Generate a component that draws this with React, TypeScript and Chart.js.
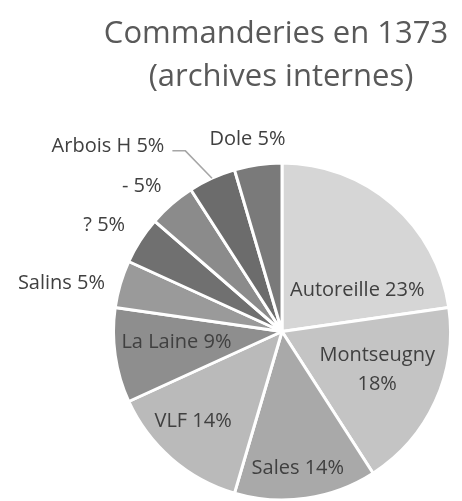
import React, { useEffect, useRef } from "react";
import { Chart, registerables } from "chart.js";

Chart.register(...registerables);

const categories = ["Autoreille", "Montseugny", "Sales", "VLF", "La Laine", "Salins", "?", "-", "Arbois H", "Dole"];
const counts = [5, 4, 3, 3, 2, 1, 1, 1, 1, 1];
const sliceColors = ["#d6d6d6", "#c4c4c4", "#a9a9a9", "#bababa", "#8e8e8e", "#9a9a9a", "#707070", "#8b8b8b", "#6c6c6c", "#7a7a7a"];
const titleLines = ["Commanderies en 1373", "(archives internes)"];
// label placement: [angle shift in degrees from slice middle, radius factor]
const labelPlacement: [number, number][] = [
  [20.2, 0.51], [-2.4, 0.61], [1.6, 0.82], [3.8, 0.75], [2.3, 0.63],
  [-4, 1.34], [-1.8, 1.23], [-3, 1.2], [-18.6, 1.51], [-2, 1.16],
];
const labelLineBreak = [false, true, false, false, false, false, false, false, false, false];
const leaderLine = [false, false, false, false, false, false, false, false, true, false];

const FONT = "'Open Sans', sans-serif";

const labelPlugin = {
  id: "pieLabels",
  afterDatasetsDraw(chart: any) {
    const ctx = chart.ctx;
    const meta = chart.getDatasetMeta(0);
    const total = counts.reduce((a, b) => a + b, 0);
    ctx.save();
    // title
    const ca = chart.chartArea;
    const cx = (ca.left + ca.right) / 2 - 6;
    ctx.fillStyle = "#595959";
    ctx.font = `31px ${FONT}`;
    ctx.textAlign = "center";
    ctx.textBaseline = "alphabetic";
    ctx.fillText(titleLines[0], cx, 43);
    ctx.fillText(titleLines[1], cx + 5, 86);

    ctx.font = `20px ${FONT}`;
    ctx.fillStyle = "#404040";
    ctx.textBaseline = "middle";
    meta.data.forEach((arc: any, i: number) => {
      const p = arc.getProps(["x", "y", "startAngle", "endAngle", "outerRadius"], true);
      const mid = (p.startAngle + p.endAngle) / 2;
      const [dDeg, f] = labelPlacement[i];
      const a = mid + (dDeg * Math.PI) / 180;
      const lx = p.x + Math.cos(a) * p.outerRadius * f;
      const ly = p.y + Math.sin(a) * p.outerRadius * f;
      const pct = Math.round((counts[i] / total) * 100) + "%";
      if (labelLineBreak[i]) {
        ctx.fillText(categories[i], lx, ly - 14.5);
        ctx.fillText(pct, lx, ly + 14.5);
      } else {
        const txt = categories[i] + " " + pct;
        ctx.fillText(txt, lx, ly);
        if (leaderLine[i]) {
          const w = ctx.measureText(txt).width;
          const sx = lx + w / 2 + 8;
          const sy = ly + 5;
          const ex = p.x + Math.cos(mid) * p.outerRadius;
          const ey = p.y + Math.sin(mid) * p.outerRadius;
          ctx.strokeStyle = "#a6a6a6";
          ctx.lineWidth = 1.5;
          ctx.beginPath();
          ctx.moveTo(sx, sy);
          ctx.lineTo(sx + 13, sy);
          ctx.lineTo(ex, ey);
          ctx.stroke();
        }
      }
    });
    ctx.restore();
  },
};

export default function App() {
  const ref = useRef<HTMLCanvasElement>(null);
  useEffect(() => {
    document.body.style.margin = "0";
    const chart = new Chart(ref.current!, {
      type: "pie",
      data: {
        labels: categories,
        datasets: [
          {
            data: counts,
            backgroundColor: sliceColors,
            borderColor: "#ffffff",
            borderWidth: 3,
          },
        ],
      },
      options: {
        animation: false,
        responsive: false,
        layout: { padding: { left: 112, right: 10, top: 160, bottom: 17 } },
        plugins: {
          legend: { display: false },
          title: { display: false },
          tooltip: { enabled: false },
        },
      },
      plugins: [labelPlugin],
    });
    return () => chart.destroy();
  }, []);
  return (
    <div style={{ width: 462, height: 501, overflow: "hidden", background: "#fff" }}>
      <canvas ref={ref} width={462} height={520} style={{ width: 462, height: 520, display: "block" }} />
    </div>
  );
}
